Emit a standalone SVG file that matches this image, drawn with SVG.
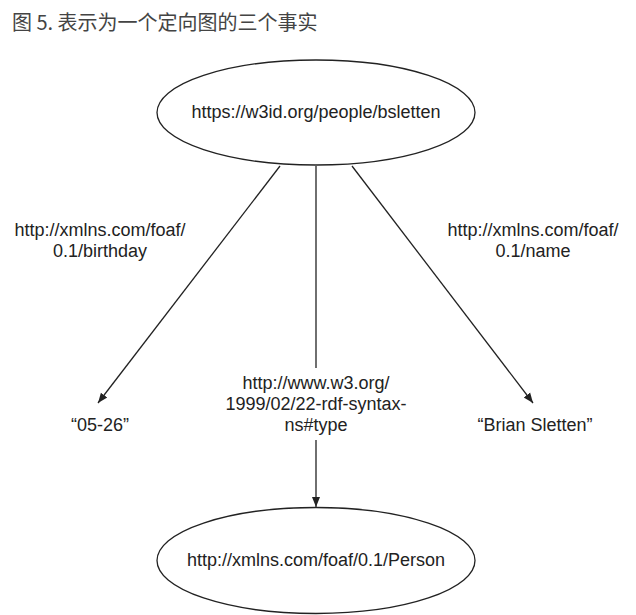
<svg xmlns="http://www.w3.org/2000/svg" width="636" height="615" viewBox="0 0 636 615">
<style>
.t{font-family:"Liberation Sans",Arial,sans-serif;font-size:18px;fill:#222;text-anchor:middle}
.title{font-family:"Noto Sans CJK SC","Liberation Sans",sans-serif;font-size:20px;fill:#444}
.n{fill:#fff;stroke:#222;stroke-width:1.3}
.e{stroke:#222;stroke-width:1.3;fill:none}
</style>
<defs>
<marker id="ah" viewBox="0 0 10 10" refX="10" refY="5" markerWidth="10" markerHeight="10" markerUnits="userSpaceOnUse" orient="auto">
<path d="M0,1 L10,5 L0,9 Z" fill="#222"/>
</marker>
</defs>
<rect width="636" height="615" fill="#fff"/>
<text class="title" x="12" y="30">图 5. 表示为一个定向图的三个事实</text>
<g id="connectors">
<line class="e" x1="280" y1="166" x2="98" y2="403" marker-end="url(#ah)"/>
<line class="e" x1="352" y1="166" x2="533" y2="403" marker-end="url(#ah)"/>
<line class="e" x1="316" y1="166" x2="316" y2="368"/>
<line class="e" x1="316" y1="440" x2="316" y2="507" marker-end="url(#ah)"/>
<text class="t" x="100" y="236">http://xmlns.com/foaf/</text>
<text class="t" x="100" y="257">0.1/birthday</text>
<text class="t" x="533" y="236">http://xmlns.com/foaf/</text>
<text class="t" x="533" y="257">0.1/name</text>
<text class="t" x="316" y="389">http://www.w3.org/</text>
<text class="t" x="316" y="410">1999/02/22-rdf-syntax-</text>
<text class="t" x="316" y="431">ns#type</text>
</g>
<g id="subject">
<ellipse class="n" cx="316" cy="112.5" rx="159" ry="52.5"/>
<text class="t" x="316" y="118">https://w3id.org/people/bsletten</text>
</g>
<g id="birthday">
<text class="t" x="100" y="431">“05-26”</text>
</g>
<g id="name">
<text class="t" x="535" y="431">“Brian Sletten”</text>
</g>
<g id="person">
<ellipse class="n" cx="316" cy="560.5" rx="159" ry="53"/>
<text class="t" x="316" y="566">http://xmlns.com/foaf/0.1/Person</text>
</g>
</svg>
